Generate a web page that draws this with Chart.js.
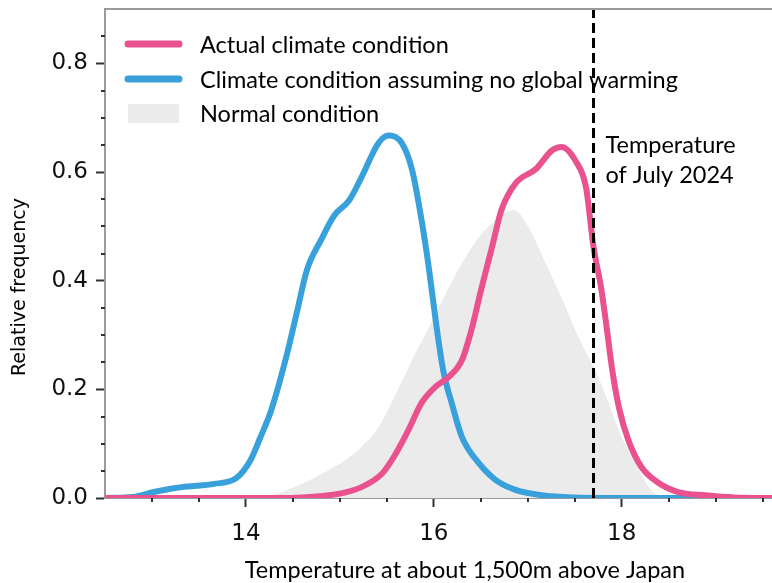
<!DOCTYPE html>
<html><head><meta charset="utf-8">
<script src="https://cdn.jsdelivr.net/npm/chart.js@4/dist/chart.umd.min.js"></script>
<style>html,body{margin:0;padding:0;background:#fff;}canvas{display:block;}</style>
</head><body>
<canvas id="c" width="772" height="583"></canvas>
<script>
// ---- data ----
const actualTemps = [12.5, 14.3, 14.6, 14.88, 15.05, 15.23, 15.45, 15.6, 15.73, 15.87, 16.02, 16.16, 16.3, 16.4, 16.51, 16.62, 16.72, 16.87, 17.09, 17.26, 17.36, 17.51, 17.62, 17.7, 17.78, 17.83, 17.9, 17.97, 18.07, 18.21, 18.39, 18.6, 18.89, 19.2, 19.6];
const actualFreq  = [0, 0, 0.001, 0.005, 0.01, 0.02, 0.045, 0.083, 0.125, 0.175, 0.205, 0.223, 0.254, 0.309, 0.388, 0.462, 0.53, 0.579, 0.606, 0.64, 0.646, 0.62, 0.572, 0.462, 0.388, 0.327, 0.235, 0.167, 0.107, 0.057, 0.028, 0.011, 0.005, 0.001, 0];

const noWarmingTemps = [12.5, 12.8, 13.02, 13.2, 13.37, 13.66, 13.9, 14.05, 14.15, 14.27, 14.44, 14.54, 14.65, 14.8, 14.94, 15.1, 15.23, 15.41, 15.52, 15.66, 15.77, 15.87, 15.95, 16.02, 16.1, 16.19, 16.3, 16.48, 16.66, 16.87, 17.15, 17.5, 18.0, 19.6];
const noWarmingFreq  = [0, 0.002, 0.011, 0.017, 0.021, 0.026, 0.037, 0.07, 0.11, 0.162, 0.267, 0.34, 0.42, 0.475, 0.52, 0.548, 0.59, 0.653, 0.667, 0.653, 0.603, 0.511, 0.42, 0.327, 0.235, 0.175, 0.112, 0.064, 0.033, 0.015, 0.005, 0.001, 0, 0];

const normalTemps = [12.5, 14.1, 14.4, 14.7, 14.94, 15.1, 15.23, 15.41, 15.6, 15.77, 15.95, 16.13, 16.3, 16.48, 16.66, 16.85, 17.01, 17.19, 17.33, 17.54, 17.72, 17.86, 18.0, 18.15, 18.29, 18.45, 19.6];
const normalFreq  = [0, 0, 0.012, 0.035, 0.057, 0.075, 0.094, 0.13, 0.193, 0.254, 0.315, 0.377, 0.432, 0.48, 0.511, 0.53, 0.498, 0.432, 0.38, 0.296, 0.235, 0.175, 0.112, 0.064, 0.02, 0, 0];

const julyTemp = 17.7;

const xMajorTicks = [14, 16, 18];
const xMinorTicks = [13, 13.5, 14.5, 15, 15.5, 16.5, 17, 17.5, 18.5, 19, 19.5];
const yMajorTicks = [0, 0.2, 0.4, 0.6, 0.8];
const yMinorTicks = [0.05, 0.1, 0.15, 0.25, 0.3, 0.35, 0.45, 0.5, 0.55, 0.65, 0.7, 0.75, 0.85];

const seriesLabels = ['Actual climate condition', 'Climate condition assuming no global warming', 'Normal condition'];
const xTitle = 'Temperature at about 1,500m above Japan';
const yTitle = 'Relative frequency';
const annotationLines = ['Temperature', 'of July 2024'];

// ---- styles ----
const PINK = '#E9528F';
const BLUE = '#38A1DB';
const GRAY = '#EBEBEB';
const AXIS = '#9a9a9a';
const TICK = '#333333';
const TXT = 'Lato, "Open Sans", sans-serif';
const TXT_SIZE = 23.5;

const toPts = (xs, ys) => xs.map((x, i) => ({x: x, y: ys[i]}));

const overlay = {
  id: 'overlay',
  afterDraw(chart) {
    const {ctx, chartArea: a, scales: {x, y}} = chart;
    ctx.save();
    // top spine
    ctx.strokeStyle = AXIS; ctx.lineWidth = 2;
    ctx.beginPath(); ctx.moveTo(a.left - 1, a.top); ctx.lineTo(a.right, a.top); ctx.stroke();
    // minor ticks
    ctx.strokeStyle = TICK; ctx.lineWidth = 2;
    ctx.beginPath();
    xMinorTicks.forEach(v => { const px = Math.round(x.getPixelForValue(v)); ctx.moveTo(px, a.bottom); ctx.lineTo(px, a.bottom + 4); });
    yMinorTicks.forEach(v => { const py = Math.round(y.getPixelForValue(v)); ctx.moveTo(a.left, py); ctx.lineTo(a.left - 4, py); });
    ctx.stroke();
    // legend
    const ds = chart.data.datasets;
    const rows = [44, 79, 113];
    ctx.font = TXT_SIZE + 'px ' + TXT;
    ctx.textBaseline = 'middle'; ctx.textAlign = 'left'; ctx.fillStyle = '#000';
    for (let i = 0; i < 3; i++) {
      if (i < 2) {
        ctx.strokeStyle = ds[i].borderColor; ctx.lineWidth = 7; ctx.lineCap = 'round';
        ctx.beginPath(); ctx.moveTo(128, rows[i]); ctx.lineTo(179, rows[i]); ctx.stroke();
      } else {
        ctx.fillStyle = ds[i].backgroundColor; ctx.fillRect(128, 104, 51, 19);
      }
      ctx.fillStyle = '#000';
      ctx.fillText(ds[i].label, 200, rows[i] + 1);
    }
    // annotation next to the dashed line
    ctx.textBaseline = 'alphabetic';
    const ax = x.getPixelForValue(julyTemp) + 12;
    ctx.fillText(annotationLines[0], ax, 153);
    ctx.fillText(annotationLines[1], ax, 183);
    // x title
    ctx.textAlign = 'center';
    ctx.fillText(xTitle, 465, 578);
    // y title
    ctx.font = '19px "DejaVu Sans"';
    ctx.translate(20, 287); ctx.rotate(-Math.PI / 2);
    ctx.textBaseline = 'middle';
    ctx.fillText(yTitle, 0, 0);
    ctx.restore();
  }
};

new Chart(document.getElementById('c'), {
  type: 'line',
  data: {
    datasets: [
      {label: seriesLabels[0], data: toPts(actualTemps, actualFreq), borderColor: PINK, backgroundColor: PINK, borderWidth: 6, pointRadius: 0, fill: false, cubicInterpolationMode: 'monotone', order: 1},
      {label: seriesLabels[1], data: toPts(noWarmingTemps, noWarmingFreq), borderColor: BLUE, backgroundColor: BLUE, borderWidth: 6, pointRadius: 0, fill: false, cubicInterpolationMode: 'monotone', order: 2},
      {label: seriesLabels[2], data: toPts(normalTemps, normalFreq), borderColor: GRAY, backgroundColor: GRAY, borderWidth: 0, pointRadius: 0, fill: 'origin', cubicInterpolationMode: 'monotone', order: 3},
      {label: 'July 2024', data: [{x: julyTemp, y: 0}, {x: julyTemp, y: 0.9}], borderColor: '#000', borderWidth: 3, borderDash: [10, 5], pointRadius: 0, fill: false, order: 0}
    ]
  },
  options: {
    responsive: false, animation: false, devicePixelRatio: 1,
    layout: {padding: {top: 9, right: 0, left: 0, bottom: 0}},
    plugins: {legend: {display: false}, tooltip: {enabled: false}},
    scales: {
      x: {
        type: 'linear', min: 12.5, max: 19.6,
        afterBuildTicks: s => { s.ticks = xMajorTicks.map(v => ({value: v})); },
        afterFit: s => { s.height = 85; s.paddingLeft = 0; s.paddingRight = 0; },
        grid: {drawOnChartArea: false, drawTicks: true, tickLength: 9, tickWidth: 2, tickColor: TICK},
        border: {display: true, color: AXIS, width: 2},
        ticks: {font: {family: 'DejaVu Sans', size: 23}, color: '#111', padding: 13, maxRotation: 0, autoSkip: false}
      },
      y: {
        type: 'linear', min: 0, max: 0.9,
        afterBuildTicks: s => { s.ticks = yMajorTicks.map(v => ({value: v})); },
        afterFit: s => { s.width = 105; s.paddingTop = 0; s.paddingBottom = 0; },
        grid: {drawOnChartArea: false, drawTicks: true, tickLength: 9, tickWidth: 2, tickColor: TICK},
        border: {display: true, color: AXIS, width: 2},
        ticks: {font: {family: 'DejaVu Sans', size: 23}, color: '#111', padding: 8, autoSkip: false, callback: v => v.toFixed(1)}
      }
    }
  },
  plugins: [overlay]
});
</script>
</body></html>
